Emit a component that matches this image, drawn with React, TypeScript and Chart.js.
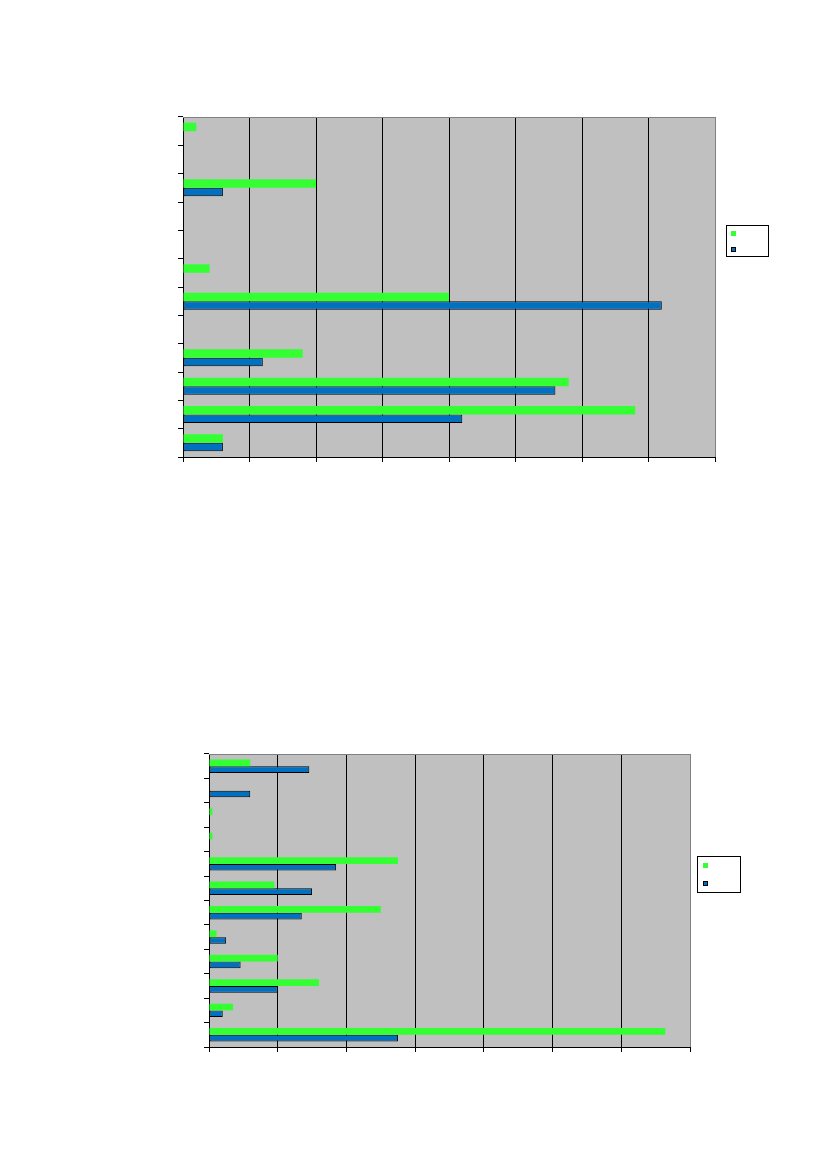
import { useEffect, useRef } from "react";
import { Chart, registerables } from "chart.js";

Chart.register(...registerables);

// top chart: 12 categories, scale 0..8
const topCategories = ["1", "2", "3", "4", "5", "6", "7", "8", "9", "10", "11", "12"];
const topGreen = [0.2, 0, 2.0, 0, 0, 0.4, 4.0, 0, 1.8, 5.8, 6.8, 0.6];
const topBlue = [0, 0, 0.6, 0, 0, 0, 7.2, 0, 1.2, 5.6, 4.2, 0.6];
const topMax = 8;

// bottom chart: 12 categories, scale 0..7
const bottomCategories = ["1", "2", "3", "4", "5", "6", "7", "8", "9", "10", "11", "12"];
const bottomGreen = [0.6, 0, 0.05, 0.05, 2.75, 0.95, 2.5, 0.11, 1.0, 1.6, 0.35, 6.64];
const bottomBlue = [1.46, 0.6, 0, 0, 1.85, 1.5, 1.35, 0.25, 0.46, 1.0, 0.2, 2.75];
const bottomMax = 7;

const GREEN = "#33FF33";
const BLUE = "#0070C0";

const plotFrame = {
  id: "plotFrame",
  beforeDraw(chart: Chart) {
    const { ctx, chartArea: a } = chart;
    ctx.save();
    ctx.fillStyle = "#C0C0C0";
    ctx.fillRect(a.left, a.top, a.right - a.left, a.bottom - a.top);
    ctx.restore();
  },
  beforeDatasetsDraw(chart: Chart) {
    const { ctx, chartArea: a } = chart;
    ctx.save();
    ctx.strokeStyle = "#808080";
    ctx.lineWidth = 1;
    ctx.beginPath();
    ctx.moveTo(a.left, a.top + 0.5);
    ctx.lineTo(a.right, a.top + 0.5);
    ctx.stroke();
    ctx.restore();
  },
};

type PanelProps = {
  labels: string[];
  green: number[];
  blue: number[];
  max: number;
  catPct: number;
  left: number;
  top: number;
  width: number;
  height: number;
  legend: { left: number; top: number; width: number; height: number; mx: number; gy: number; by: number };
};

function BarPanel(p: PanelProps) {
  const canvasRef = useRef<HTMLCanvasElement>(null);
  const chartRef = useRef<Chart | null>(null);

  useEffect(() => {
    if (!canvasRef.current) return;
    if (chartRef.current) chartRef.current.destroy();
    chartRef.current = new Chart(canvasRef.current, {
      type: "bar",
      data: {
        labels: p.labels,
        datasets: [
          {
            data: p.green,
            backgroundColor: GREEN,
            borderWidth: 0,
            categoryPercentage: p.catPct,
            barPercentage: 1,
          },
          {
            data: p.blue,
            backgroundColor: BLUE,
            borderColor: "#000000",
            borderWidth: 1,
            borderSkipped: false,
            categoryPercentage: p.catPct,
            barPercentage: 1,
          },
        ],
      },
      options: {
        indexAxis: "y",
        animation: false,
        responsive: false,
        devicePixelRatio: 1,
        layout: { padding: { top: 2, right: 2, left: 0, bottom: 0 } },
        plugins: { legend: { display: false }, tooltip: { enabled: false } },
        scales: {
          x: {
            min: 0,
            max: p.max,
            ticks: { display: false, stepSize: 1 },
            grid: {
              color: (c: any) => (c.tick && c.tick.value === p.max ? "#808080" : "#000000"),
              tickColor: "#000000",
              tickLength: 5,
              lineWidth: 1,
            },
            border: { color: "#000000" },
          },
          y: {
            ticks: { display: false },
            grid: {
              drawOnChartArea: false,
              color: "#000000",
              tickLength: 5,
            },
            border: { color: "#000000" },
          },
        },
      },
      plugins: [plotFrame],
    });
    return () => {
      if (chartRef.current) {
        chartRef.current.destroy();
        chartRef.current = null;
      }
    };
  }, []);

  const lg = p.legend;
  return (
    <>
      <canvas
        ref={canvasRef}
        width={p.width}
        height={p.height}
        style={{ position: "absolute", left: p.left, top: p.top, width: p.width, height: p.height }}
      />
      <div
        style={{
          position: "absolute",
          left: lg.left,
          top: lg.top,
          width: lg.width,
          height: lg.height,
          border: "1px solid #000",
          background: "#fff",
          boxSizing: "border-box",
        }}
      >
        <div style={{ position: "absolute", left: lg.mx, top: lg.gy, width: 5, height: 5, background: GREEN }} />
        <div
          style={{
            position: "absolute",
            left: lg.mx,
            top: lg.by,
            width: 5,
            height: 5,
            background: BLUE,
            border: "1px solid #000",
            boxSizing: "border-box",
          }}
        />
      </div>
    </>
  );
}

export default function App() {
  return (
    <div style={{ position: "absolute", left: 0, top: 0, width: 827, height: 1169, background: "#fff" }}>
      <BarPanel
        labels={topCategories}
        green={topGreen}
        blue={topBlue}
        max={topMax}
        catPct={0.6}
        left={178}
        top={115}
        width={539}
        height={347}
        legend={{ left: 726, top: 225, width: 43, height: 32, mx: 4, gy: 5, by: 21 }}
      />
      <BarPanel
        labels={bottomCategories}
        green={bottomGreen}
        blue={bottomBlue}
        max={bottomMax}
        catPct={0.55}
        left={204}
        top={752}
        width={488}
        height={300}
        legend={{ left: 697, top: 856, width: 44, height: 37, mx: 5, gy: 6, by: 24 }}
      />
    </div>
  );
}
